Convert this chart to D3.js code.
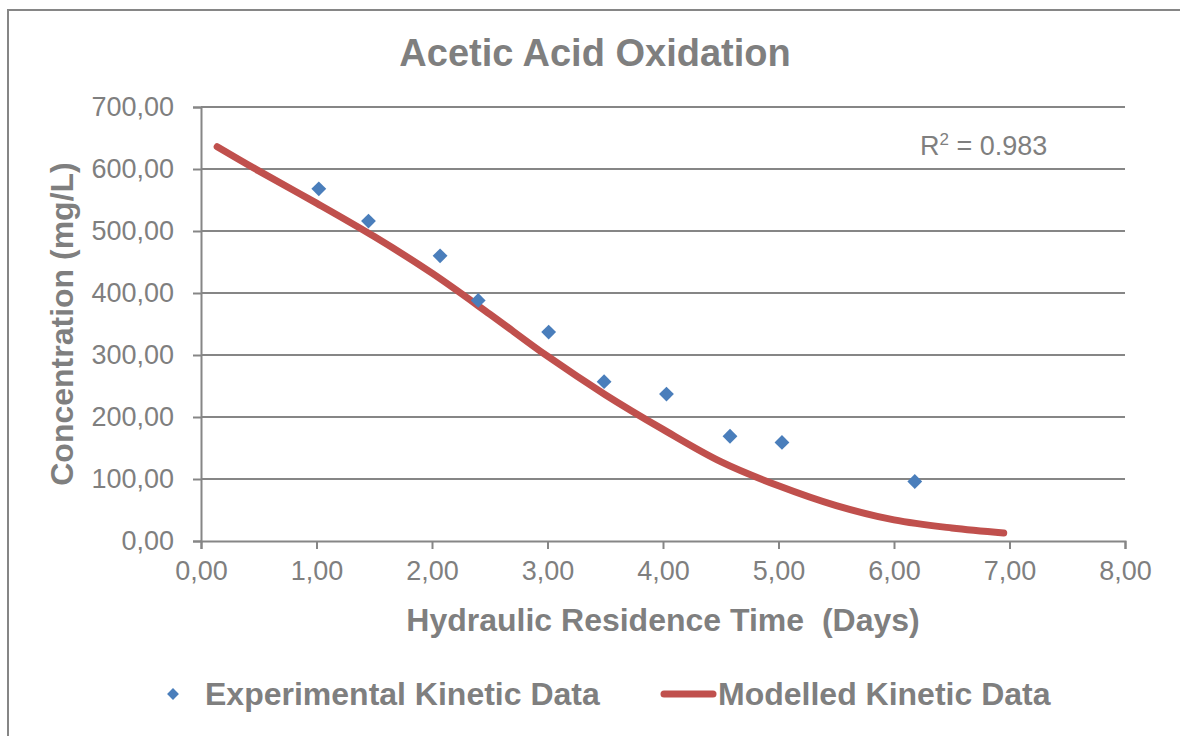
<!DOCTYPE html>
<html>
<head>
<meta charset="utf-8">
<script src="https://cdn.jsdelivr.net/npm/d3@7"></script>
<style>
    body { margin: 0; background: #ffffff; }
    svg { display: block; font-family: "Liberation Sans", Arial, sans-serif; }
</style>
</head>
<body>
<div id="chart"></div>
<script>
// data
var expDays = [1.02, 1.45, 2.07, 2.40, 3.01, 3.49, 4.03, 4.58, 5.03, 6.18];
var expConc = [568, 516, 460, 388, 337, 257, 237, 169, 159, 96];

var modelDays = [0.14, 0.5, 1.0, 1.5, 2.0, 2.5, 3.0, 3.5, 4.0, 4.5, 5.0, 5.5, 6.0, 6.5, 6.95];
var modelConc = [636, 597, 545, 491, 432, 366, 298, 236, 180, 128, 89, 57, 34, 21, 13];

var xTicks = [0, 1, 2, 3, 4, 5, 6, 7, 8];
var yTicks = [0, 100, 200, 300, 400, 500, 600, 700];

var W = 1180, H = 736;
var plotLeft = 201, plotRight = 1125, plotTop = 107, plotBottom = 541;
var textGrey = "#7f7f7f", lineGrey = "#868686";

var svg = d3.select("#chart")
    .append("svg")
    .attr("width", W)
    .attr("height", H);

// frame
svg.append("rect")
    .attr("x", 8)
    .attr("y", 10)
    .attr("width", W + 20)
    .attr("height", H + 20)
    .attr("fill", "white")
    .attr("stroke", lineGrey)
    .attr("stroke-width", 2);

var x = d3.scaleLinear().domain([0, 8]).range([plotLeft, plotRight]);
var y = d3.scaleLinear().domain([0, 700]).range([plotBottom, plotTop]);

var fmt = function(d) { return d3.format(".2f")(d).replace(".", ","); };

// gridlines
svg.append("g")
    .selectAll("line")
    .data(yTicks.slice(1))
    .enter()
    .append("line")
    .attr("x1", plotLeft)
    .attr("x2", plotRight)
    .attr("y1", function(d) { return y(d); })
    .attr("y2", function(d) { return y(d); })
    .attr("stroke", lineGrey)
    .attr("stroke-width", 2);

// y axis
var yAxis = svg.append("g")
    .attr("transform", "translate(" + plotLeft + ",0)")
    .call(d3.axisLeft(y).tickValues(yTicks).tickFormat(fmt).tickSize(8).tickPadding(19));
yAxis.select(".domain").attr("stroke", lineGrey).attr("stroke-width", 2);
yAxis.selectAll(".tick line").attr("stroke", lineGrey).attr("stroke-width", 2);
yAxis.selectAll(".tick text")
    .attr("fill", textGrey)
    .style("font-size", "27px");

// x axis
var xAxis = svg.append("g")
    .attr("transform", "translate(0," + plotBottom + ")")
    .call(d3.axisBottom(x).tickValues(xTicks).tickFormat(fmt).tickSize(8).tickPadding(12));
xAxis.select(".domain").attr("stroke", lineGrey).attr("stroke-width", 2);
xAxis.selectAll(".tick line").attr("stroke", lineGrey).attr("stroke-width", 2);
xAxis.selectAll(".tick text")
    .attr("fill", textGrey)
    .style("font-size", "27px");

// model curve
var model = modelDays.map(function(d, i) { return [d, modelConc[i]]; });
svg.append("path")
    .datum(model)
    .attr("d", d3.line()
        .x(function(d) { return x(d[0]); })
        .y(function(d) { return y(d[1]); })
        .curve(d3.curveCatmullRom))
    .attr("fill", "none")
    .attr("stroke", "#c0504d")
    .attr("stroke-width", 7)
    .attr("stroke-linecap", "round");

// experimental points
var diamond = d3.symbol().type(d3.symbolSquare).size(110);
svg.append("g")
    .selectAll("path")
    .data(expDays)
    .enter()
    .append("path")
    .attr("d", diamond)
    .attr("transform", function(d, i) { return "translate(" + x(d) + "," + y(expConc[i]) + ") rotate(45)"; })
    .attr("fill", "#4a7ebb");

// title
svg.append("text")
    .attr("x", 595)
    .attr("y", 66)
    .attr("text-anchor", "middle")
    .attr("fill", textGrey)
    .style("font-size", "38px")
    .style("font-weight", "bold")
    .text("Acetic Acid Oxidation");

// axis titles
svg.append("text")
    .attr("x", (plotLeft + plotRight) / 2)
    .attr("y", 631)
    .attr("text-anchor", "middle")
    .attr("fill", textGrey)
    .style("font-size", "32px")
    .style("font-weight", "bold")
    .style("white-space", "pre")
    .text("Hydraulic Residence Time  (Days)");

svg.append("text")
    .attr("transform", "translate(73," + (plotTop + plotBottom) / 2 + ") rotate(-90)")
    .attr("text-anchor", "middle")
    .attr("fill", textGrey)
    .style("font-size", "32px")
    .style("font-weight", "bold")
    .text("Concentration (mg/L)");

// R squared
var r2 = svg.append("text")
    .attr("x", 920)
    .attr("y", 155)
    .attr("fill", textGrey)
    .style("font-size", "27px");
r2.append("tspan").text("R");
r2.append("tspan").attr("dy", -10).style("font-size", "17px").text("2");
r2.append("tspan").attr("dy", 10).text(" = 0.983");

// legend
var legendY = 694;
svg.append("path")
    .attr("d", d3.symbol().type(d3.symbolSquare).size(70))
    .attr("transform", "translate(173," + legendY + ") rotate(45)")
    .attr("fill", "#4a7ebb");
svg.append("text")
    .attr("x", 205)
    .attr("y", legendY + 11)
    .attr("fill", textGrey)
    .style("font-size", "32px")
    .style("font-weight", "bold")
    .text("Experimental Kinetic Data");

svg.append("line")
    .attr("x1", 664)
    .attr("x2", 713)
    .attr("y1", legendY)
    .attr("y2", legendY)
    .attr("stroke", "#c0504d")
    .attr("stroke-width", 7)
    .attr("stroke-linecap", "round");
svg.append("text")
    .attr("x", 718)
    .attr("y", legendY + 11)
    .attr("fill", textGrey)
    .style("font-size", "32px")
    .style("font-weight", "bold")
    .text("Modelled Kinetic Data");
</script>
</body>
</html>
